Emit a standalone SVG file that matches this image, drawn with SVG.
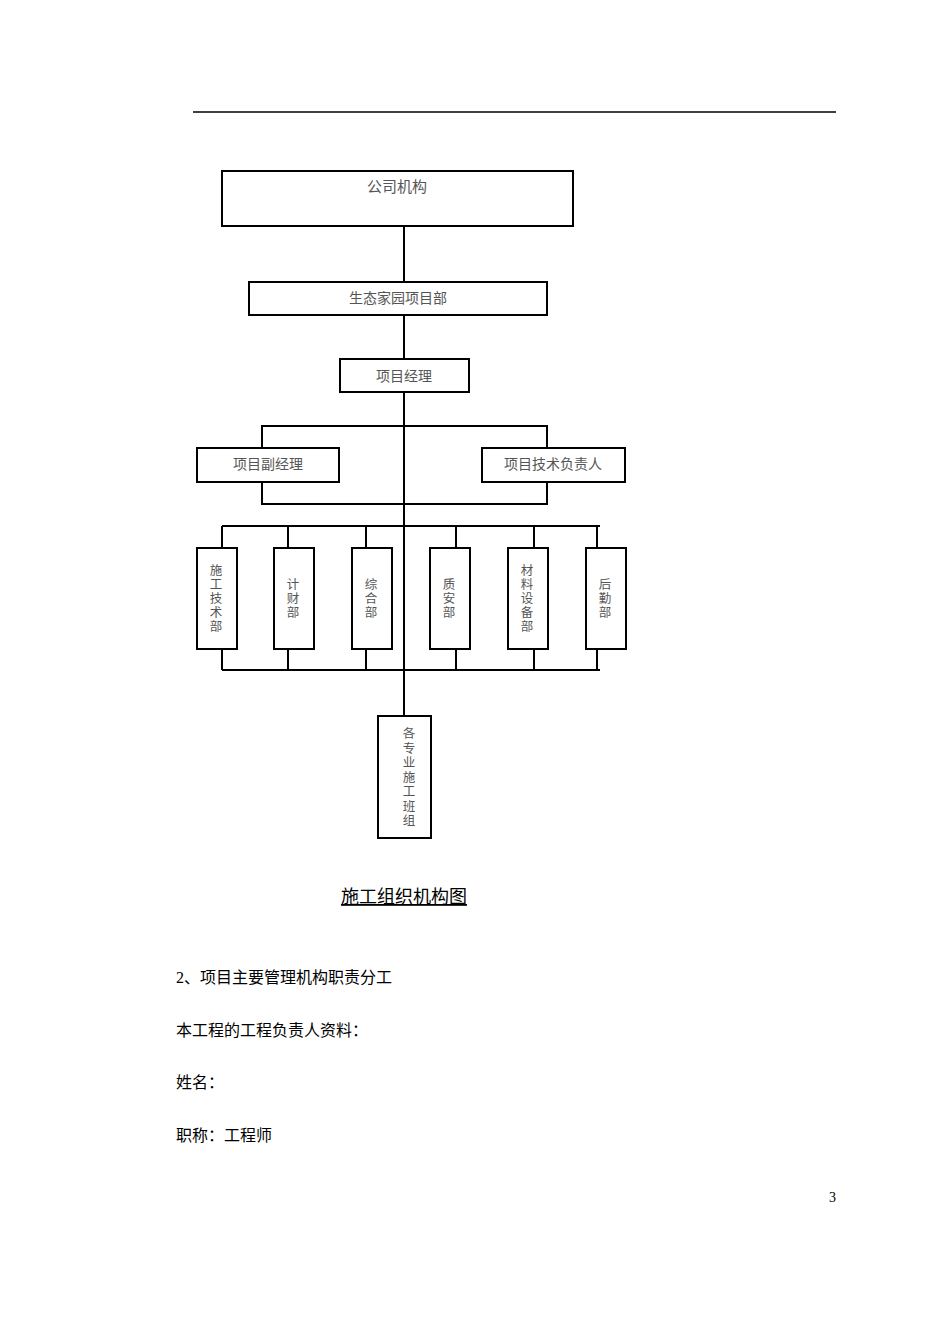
<svg xmlns="http://www.w3.org/2000/svg" width="950" height="1344" viewBox="0 0 950 1344">
<style>
.b{fill:#fff;stroke:#000;stroke-width:2}
.t{font-family:"Liberation Serif","Noto Sans CJK SC",serif;font-size:14px;fill:#555;text-anchor:middle}
.v{font-size:12.5px}
.p{font-family:"Liberation Serif","Noto Sans CJK SC",serif;font-size:16px;fill:#000}
.c{stroke:#000;stroke-width:2;fill:none}
</style>
<rect width="950" height="1344" fill="#fff"/>
<line x1="193" y1="112" x2="836" y2="112" stroke="#000" stroke-width="1.5"/>
<g id="connectors" class="c">
<line x1="404" y1="226" x2="404" y2="282"/>
<line x1="404" y1="315" x2="404" y2="359"/>
<line x1="404" y1="392" x2="404" y2="716"/>
<polyline points="262,448 262,426 547,426 547,448"/>
<polyline points="262,482 262,504 547,504 547,482"/>
<line x1="222" y1="526" x2="600" y2="526"/>
<line x1="222" y1="670" x2="600" y2="670"/>
<path d="M222 526V548M288 526V548M366 526V548M456 526V548M534 526V548M597 526V548M222 649V670M288 649V670M366 649V670M456 649V670M534 649V670M597 649V670"/>
</g>
<g id="n1"><rect class="b" x="222" y="171" width="351" height="55"/><text class="t" x="397" y="192" style="font-size:15px">公司机构</text></g>
<g id="n2"><rect class="b" x="249" y="282" width="298" height="33"/><text class="t" x="398" y="303">生态家园项目部</text></g>
<g id="n3"><rect class="b" x="340" y="359" width="129" height="33"/><text class="t" x="404" y="381">项目经理</text></g>
<g id="n4"><rect class="b" x="197" y="448" width="142" height="34"/><text class="t" x="268" y="469">项目副经理</text></g>
<g id="n5"><rect class="b" x="482" y="448" width="143" height="34"/><text class="t" x="553" y="469">项目技术负责人</text></g>
<g id="d1"><rect class="b" x="197" y="548" width="40" height="101"/><text class="t v" x="216" y="575">施<tspan x="216" dy="14">工</tspan><tspan x="216" dy="14">技</tspan><tspan x="216" dy="14">术</tspan><tspan x="216" dy="14">部</tspan></text></g>
<g id="d2"><rect class="b" x="274" y="548" width="40" height="101"/><text class="t v" x="293" y="589">计<tspan x="293" dy="14">财</tspan><tspan x="293" dy="14">部</tspan></text></g>
<g id="d3"><rect class="b" x="352" y="548" width="40" height="101"/><text class="t v" x="371" y="589">综<tspan x="371" dy="14">合</tspan><tspan x="371" dy="14">部</tspan></text></g>
<g id="d4"><rect class="b" x="430" y="548" width="40" height="101"/><text class="t v" x="449" y="589">质<tspan x="449" dy="14">安</tspan><tspan x="449" dy="14">部</tspan></text></g>
<g id="d5"><rect class="b" x="508" y="548" width="40" height="101"/><text class="t v" x="527" y="575">材<tspan x="527" dy="14">料</tspan><tspan x="527" dy="14">设</tspan><tspan x="527" dy="14">备</tspan><tspan x="527" dy="14">部</tspan></text></g>
<g id="d6"><rect class="b" x="586" y="548" width="40" height="101"/><text class="t v" x="605" y="589">后<tspan x="605" dy="14">勤</tspan><tspan x="605" dy="14">部</tspan></text></g>
<g id="n6"><rect class="b" x="378" y="716" width="53" height="122"/><text class="t v" x="409" y="738">各<tspan x="409" dy="14.5">专</tspan><tspan x="409" dy="14.5">业</tspan><tspan x="409" dy="14.5">施</tspan><tspan x="409" dy="14.5">工</tspan><tspan x="409" dy="14.5">班</tspan><tspan x="409" dy="14.5">组</tspan></text></g>
<text class="p" x="404" y="903" text-anchor="middle" style="font-size:18px" text-decoration="underline">施工组织机构图</text>
<text class="p" x="176" y="983">2、项目主要管理机构职责分工</text>
<text class="p" x="176" y="1036">本工程的工程负责人资料：</text>
<text class="p" x="176" y="1088">姓名：</text>
<text class="p" x="176" y="1141">职称：工程师</text>
<text class="p" x="836" y="1202" text-anchor="end" style="font-size:14px">3</text>
</svg>
